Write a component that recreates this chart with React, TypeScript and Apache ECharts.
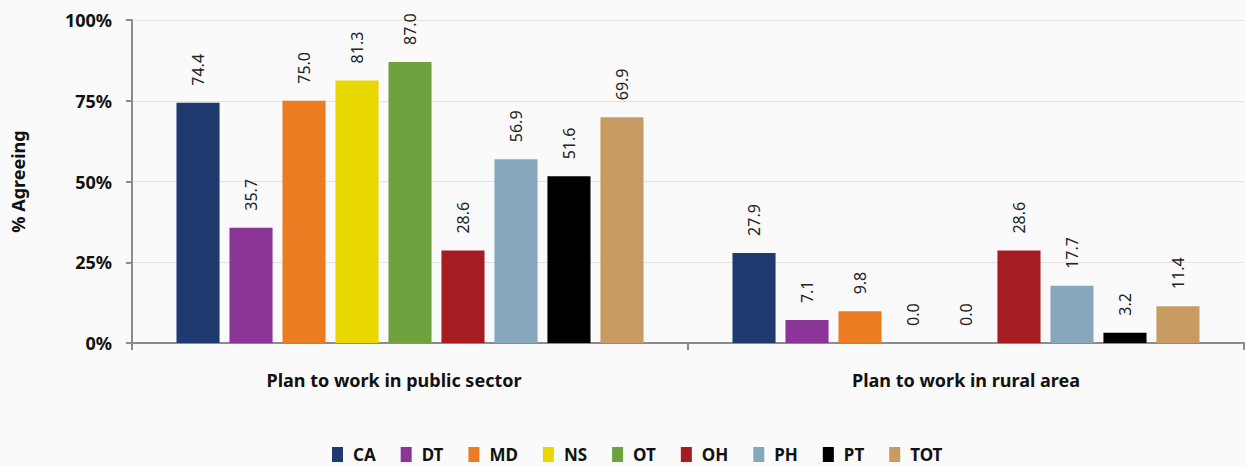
import React, { useEffect, useRef } from "react";
import * as echarts from "echarts";

const categories = ["Plan to work in public sector", "Plan to work in rural area"];
const seriesNames = ["CA", "DT", "MD", "NS", "OT", "OH", "PH", "PT", "TOT"];
const CA = [74.4, 27.9];
const DT = [35.7, 7.1];
const MD = [75.0, 9.8];
const NS = [81.3, 0.0];
const OT = [87.0, 0.0];
const OH = [28.6, 28.6];
const PH = [56.9, 17.7];
const PT = [51.6, 3.2];
const TOT = [69.9, 11.4];
const seriesValues = [CA, DT, MD, NS, OT, OH, PH, PT, TOT];
const colors = ["#1f3a6e", "#8b3596", "#ec7c22", "#e8d800", "#6fa23e", "#a51d23", "#87a7bc", "#000000", "#c89b63"];
const yTicks = [0, 25, 50, 75, 100];

const FONT = "Noto Sans";

export default function App() {
  const ref = useRef<HTMLDivElement>(null);
  useEffect(() => {
    if (!ref.current) return;
    const chart = echarts.init(ref.current, null, { renderer: "svg" });
    chart.setOption({
      animation: false,
      backgroundColor: "#fafafa",
      textStyle: { fontFamily: FONT },
      grid: { left: 132, right: 1, top: 20, bottom: 123, containLabel: false },
      legend: {
        bottom: 3,
        left: 332,
        padding: 0,
        itemWidth: 11,
        itemHeight: 15,
        itemGap: 25,
        icon: "rect",
        textStyle: { fontFamily: FONT, fontWeight: "bold", fontSize: 17, color: "#111", padding: [0, 0, 0, 5] },
        data: seriesNames,
      },
      xAxis: {
        type: "category",
        data: categories.map((c, i) =>
          i === 0 ? { value: c, textStyle: { padding: [0, 32, 0, 0] } } : c
        ),
        axisLine: { lineStyle: { color: "#8c8c8c", width: 2 } },
        axisTick: { show: true, length: 7, lineStyle: { color: "#8c8c8c", width: 2 } },
        axisLabel: { fontFamily: FONT, fontWeight: "bold", fontSize: 18, color: "#111", margin: 28 },
      },
      yAxis: {
        type: "value",
        min: 0,
        max: 100,
        interval: 25,
        name: "% Agreeing",
        nameLocation: "middle",
        nameGap: 105,
        nameTextStyle: { fontFamily: FONT, fontWeight: "bold", fontSize: 18, color: "#111" },
        axisLine: { show: true, lineStyle: { color: "#8c8c8c", width: 2 } },
        axisTick: { show: true, length: 6, lineStyle: { color: "#8c8c8c", width: 2 } },
        splitLine: { lineStyle: { color: "#e2e2e2", width: 1 } },
        axisLabel: {
          fontFamily: FONT,
          fontWeight: "bold",
          fontSize: 18,
          color: "#111",
          margin: 20,
          formatter: (v: number) => (yTicks.includes(v) ? v + "%" : ""),
        },
      },
      series: seriesNames.map((name, i) => ({
        name,
        type: "bar",
        data: seriesValues[i],
        barGap: "23%",
        barCategoryGap: "16%",
        itemStyle: { color: colors[i] },
        label: {
          show: true,
          position: "top",
          rotate: 90,
          align: "left",
          verticalAlign: "middle",
          distance: 17,
          fontFamily: FONT,
          fontSize: 16,
          color: "#222",
          formatter: (p: any) => Number(p.value).toFixed(1),
        },
      })),
    });
    return () => chart.dispose();
  }, []);
  return <div ref={ref} style={{ width: 1245, height: 466, position: "absolute", left: 0, top: 0 }} />;
}
